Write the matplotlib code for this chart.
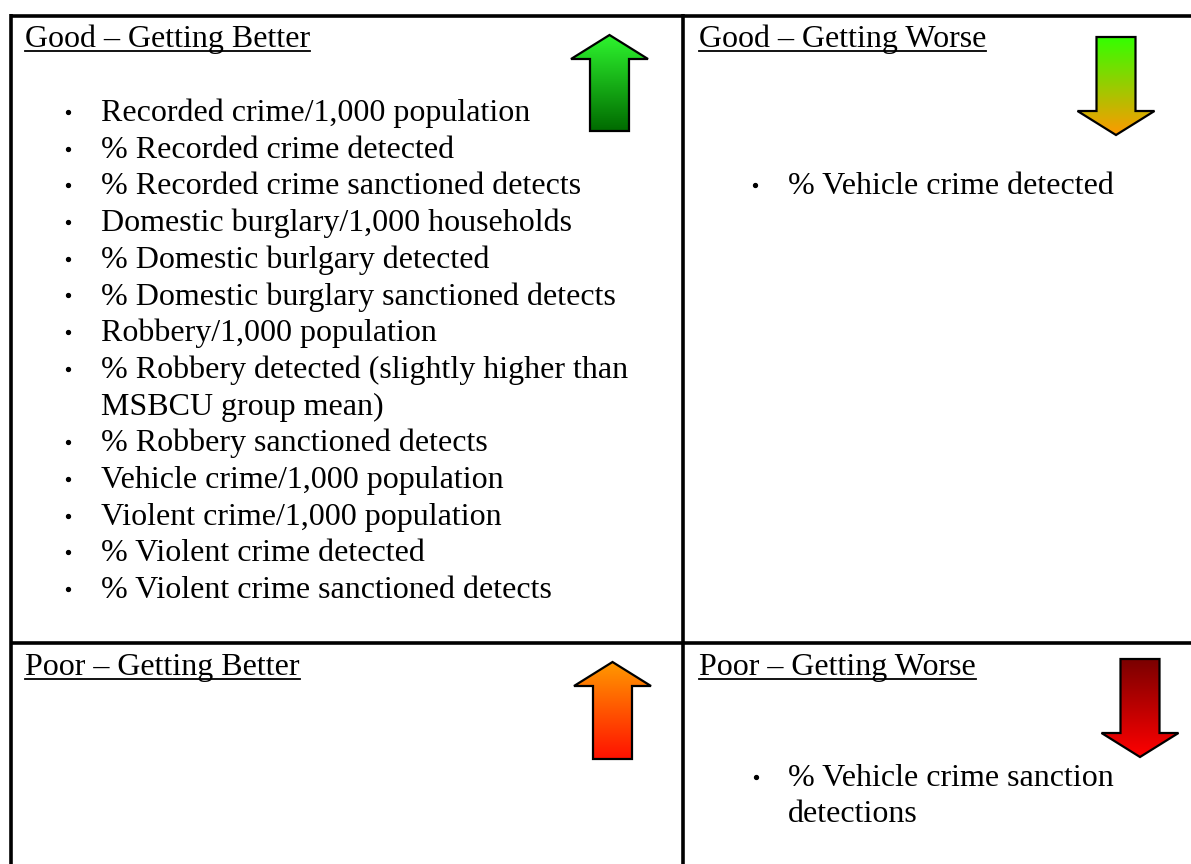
import matplotlib.pyplot as plt
import numpy as np
from matplotlib.patches import Polygon
from matplotlib.colors import LinearSegmentedColormap

# quadrant titles and their bullet items
titles = ['Good – Getting Better', 'Good – Getting Worse',
          'Poor – Getting Better', 'Poor – Getting Worse']
good_better = ['Recorded crime/1,000 population',
               '% Recorded crime detected',
               '% Recorded crime sanctioned detects',
               'Domestic burglary/1,000 households',
               '% Domestic burlgary detected',
               '% Domestic burglary sanctioned detects',
               'Robbery/1,000 population',
               '% Robbery detected (slightly higher than\nMSBCU group mean)',
               '% Robbery sanctioned detects',
               'Vehicle crime/1,000 population',
               'Violent crime/1,000 population',
               '% Violent crime detected',
               '% Violent crime sanctioned detects']
good_worse = ['% Vehicle crime detected']
poor_better = []
poor_worse = ['% Vehicle crime sanction\ndetections']

# arrow gradients (top colour, bottom colour)
arrow_colors = [('#2EF52E', '#006A00'), ('#33FF00', '#FF9900'),
                ('#FF9900', '#FF1100'), ('#7A0000', '#FF0000')]

W, H = 1191, 864
fig = plt.figure(figsize=(W / 100, H / 100), dpi=100)
ax = fig.add_axes([0, 0, 1, 1])
ax.set_xlim(0, W)
ax.set_ylim(H, 0)
ax.axis('off')

font = dict(family='Liberation Serif', fontsize=23, color='black')
lw = 2.6

# table lines
ax.plot([11, W], [15.5, 15.5], color='black', lw=lw, solid_capstyle='butt')
ax.plot([11, 11], [14, H], color='black', lw=lw, solid_capstyle='butt')
ax.plot([683, 683], [14, H], color='black', lw=lw, solid_capstyle='butt')
ax.plot([11, W], [642.5, 642.5], color='black', lw=lw, solid_capstyle='butt')

fig.canvas.draw()
renderer = fig.canvas.get_renderer()


def title(x, y, s):
    t = ax.text(x, y, s, va='baseline', ha='left', **font)
    bb = t.get_window_extent(renderer).transformed(ax.transData.inverted())
    ax.plot([bb.x0, bb.x1], [y + 3.5, y + 3.5], color='black', lw=1.3)


def bullets(items, xb, xt, y0, step=36.7):
    y = y0
    for item in items:
        ax.plot(xb, y - 9, 'o', color='black', ms=2.8)
        for line in item.split('\n'):
            ax.text(xt, y, line, va='baseline', ha='left', **font)
            y += step


title(25, 47, titles[0])
title(699, 47, titles[1])
title(25, 675, titles[2])
title(699, 675, titles[3])

bullets(good_better, 68, 101, 121)
bullets(good_worse, 755, 788, 194)
bullets(poor_better, 68, 101, 720)
bullets(poor_worse, 756, 788, 786, step=36)


def arrow(cx, top, bottom, up, colors, shaft=39, head=77, head_h=24):
    hs, hh = shaft / 2, head / 2
    if up:
        wing = top + head_h
        pts = [(cx, top), (cx + hh, wing), (cx + hs, wing), (cx + hs, bottom),
               (cx - hs, bottom), (cx - hs, wing), (cx - hh, wing)]
    else:
        wing = bottom - head_h
        pts = [(cx - hs, top), (cx + hs, top), (cx + hs, wing), (cx + hh, wing),
               (cx, bottom), (cx - hh, wing), (cx - hs, wing)]
    cmap = LinearSegmentedColormap.from_list('g', list(colors))
    grad = np.linspace(0, 1, 256).reshape(-1, 1)
    im = ax.imshow(grad, cmap=cmap, aspect='auto', interpolation='bilinear',
                   extent=[cx - hh, cx + hh, bottom, top], zorder=2)
    poly = Polygon(pts, closed=True, facecolor='none', edgecolor='black',
                   lw=1.6, joinstyle='miter', zorder=3)
    ax.add_patch(poly)
    im.set_clip_path(poly)


arrow(609.5, 35, 131, True, arrow_colors[0])
arrow(1116, 37, 135, False, arrow_colors[1])
arrow(612.5, 662, 759, True, arrow_colors[2])
arrow(1140, 659, 757, False, arrow_colors[3])

ax.set_xlim(0, W)
ax.set_ylim(H, 0)

fig.savefig('out.png', dpi=100)
